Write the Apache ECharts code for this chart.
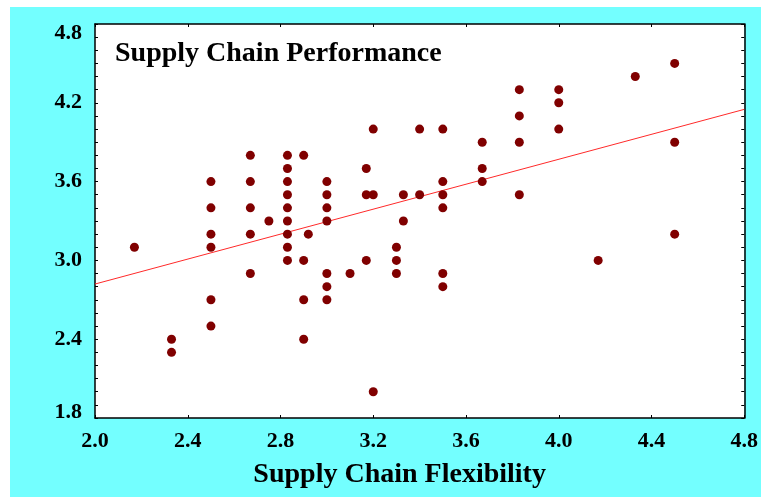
<!DOCTYPE html>
<html>
<head>
<meta charset="utf-8">
<script src="https://cdn.jsdelivr.net/npm/echarts@6/dist/echarts.min.js"></script>
<style>
  html, body { margin: 0; padding: 0; background: #ffffff; }
  #frame { position: absolute; left: 10px; top: 7px; width: 751px; height: 490px; background: #73ffff; }
  #chart { position: absolute; left: 0; top: 0; width: 761px; height: 497px; }
</style>
</head>
<body>
<div id="frame"></div>
<div id="chart"></div>
<script>
// Axis ticks
const xTicks = [2.0, 2.4, 2.8, 3.2, 3.6, 4.0, 4.4, 4.8];
const yTicks = [1.8, 2.4, 3.0, 3.6, 4.2, 4.8];

// Survey responses: flexibility score vs. performance score
const flexibility = [
  2.17,
  2.33, 2.33,
  2.5, 2.5, 2.5, 2.5, 2.5, 2.5,
  2.67, 2.67, 2.67, 2.67, 2.67,
  2.75,
  2.83, 2.83, 2.83, 2.83, 2.83, 2.83, 2.83, 2.83, 2.83,
  2.9, 2.9, 2.9, 2.9, 2.92,
  3.0, 3.0, 3.0, 3.0, 3.0, 3.0, 3.0,
  3.1,
  3.17, 3.17, 3.17,
  3.2, 3.2, 3.2,
  3.3, 3.3, 3.3,
  3.33, 3.33,
  3.4, 3.4,
  3.5, 3.5, 3.5, 3.5, 3.5, 3.5,
  3.67, 3.67, 3.67,
  3.83, 3.83, 3.83, 3.83,
  4.0, 4.0, 4.0,
  4.17,
  4.33,
  4.5, 4.5, 4.5
];
const performance = [
  3.1,
  2.4, 2.3,
  3.6, 3.4, 3.2, 3.1, 2.7, 2.5,
  3.8, 3.6, 3.4, 3.2, 2.9,
  3.3,
  3.8, 3.7, 3.6, 3.5, 3.4, 3.3, 3.2, 3.1, 3.0,
  3.8, 3.0, 2.7, 2.4, 3.2,
  3.6, 3.5, 3.4, 3.3, 2.9, 2.8, 2.7,
  2.9,
  3.7, 3.5, 3.0,
  4.0, 3.5, 2.0,
  3.1, 3.0, 2.9,
  3.5, 3.3,
  4.0, 3.5,
  4.0, 3.6, 3.5, 3.4, 2.9, 2.8,
  3.9, 3.7, 3.6,
  4.3, 4.1, 3.9, 3.5,
  4.3, 4.2, 4.0,
  3.0,
  4.4,
  4.5, 3.9, 3.2
];

// Fitted regression line end points
const fitX = [2.0, 4.8];
const fitY = [2.82, 4.15];

const points = flexibility.map((x, i) => [x, performance[i]]);
const fitLine = fitX.map((x, i) => [x, fitY[i]]);

const serif = '"Liberation Serif", "Times New Roman", serif';
const xMin = xTicks[0], xMax = xTicks[xTicks.length - 1], xStep = xTicks[1] - xTicks[0];
const yMin = yTicks[0], yMax = yTicks[yTicks.length - 1], yStep = yTicks[1] - yTicks[0];

const frameLine = { show: true, onZero: false, lineStyle: { color: '#000', width: 1.5 } };

const chart = echarts.init(document.getElementById('chart'), null, { renderer: 'canvas' });
chart.setOption({
  backgroundColor: 'transparent',
  animation: false,
  title: {
    text: 'Supply Chain Performance',
    left: 115,
    top: 40,
    padding: 0,
    textStyle: { fontFamily: serif, fontWeight: 'bold', fontSize: 28, color: '#000' }
  },
  grid: {
    left: 95, right: 16, top: 24, bottom: 79,
    show: true, backgroundColor: '#ffffff', borderWidth: 0
  },
  xAxis: [{
    type: 'value',
    min: xMin, max: xMax, interval: xStep,
    name: 'Supply Chain Flexibility',
    nameLocation: 'middle',
    nameGap: 43,
    nameTextStyle: { fontFamily: serif, fontWeight: 'bold', fontSize: 28, color: '#000', padding: [0, 40, 0, 0] },
    axisLine: frameLine,
    axisTick: { show: true, inside: true, length: 3, lineStyle: { color: '#000' } },
    splitLine: { show: false },
    axisLabel: {
      margin: 12,
      fontFamily: serif, fontWeight: 'bold', fontSize: 22, color: '#000',
      formatter: v => v.toFixed(1)
    }
  }, {
    type: 'value', position: 'top',
    min: xMin, max: xMax, interval: xStep,
    axisLine: frameLine,
    axisTick: { show: true, inside: true, length: 3, lineStyle: { color: '#000' } },
    axisLabel: { show: false },
    splitLine: { show: false }
  }],
  yAxis: [{
    type: 'value',
    min: yMin, max: yMax, interval: yStep,
    axisLine: frameLine,
    axisTick: { show: true, inside: true, length: 3, lineStyle: { color: '#000' } },
    minorTick: { show: true, splitNumber: 6, length: 3, lineStyle: { color: '#000' } },
    splitLine: { show: false },
    axisLabel: {
      margin: 13,
      fontFamily: serif, fontWeight: 'bold', fontSize: 22, color: '#000',
      formatter: v => {
        const s = v.toFixed(1);
        if (Math.abs(v - yMax) < 1e-6) return '{top|' + s + '}';
        if (Math.abs(v - yMin) < 1e-6) return '{bot|' + s + '}';
        return s;
      },
      rich: {
        top: { fontFamily: serif, fontWeight: 'bold', fontSize: 22, color: '#000', padding: [18, 0, 0, 0] },
        bot: { fontFamily: serif, fontWeight: 'bold', fontSize: 22, color: '#000', padding: [0, 0, 12, 0] }
      }
    }
  }, {
    type: 'value', position: 'right',
    min: yMin, max: yMax, interval: yStep,
    axisLine: frameLine,
    axisTick: { show: true, inside: true, length: 3, lineStyle: { color: '#000' } },
    minorTick: { show: true, splitNumber: 6, length: 3, lineStyle: { color: '#000' } },
    axisLabel: { show: false },
    splitLine: { show: false }
  }],
  series: [{
    type: 'line',
    data: fitLine,
    symbol: 'none',
    z: 2,
    lineStyle: { color: '#ff2a2a', width: 1 }
  }, {
    type: 'scatter',
    data: points,
    symbol: 'circle',
    symbolSize: 9,
    z: 3,
    itemStyle: { color: '#800000', opacity: 1 }
  }]
});
</script>
</body>
</html>
